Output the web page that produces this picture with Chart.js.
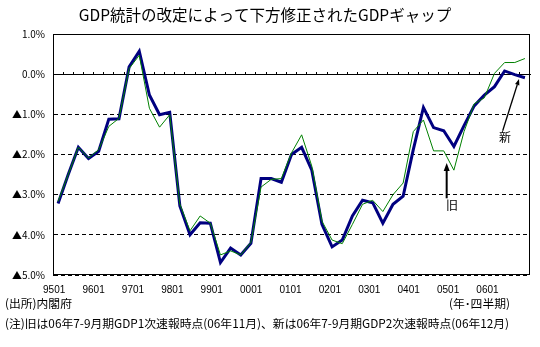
<!DOCTYPE html>
<html><head><meta charset="utf-8">
<script src="https://cdn.jsdelivr.net/npm/chart.js@4.4.1/dist/chart.umd.min.js"></script>
<style>
html,body{margin:0;padding:0;background:#fff;}
#wrap{position:relative;width:540px;height:347px;}
.note{position:absolute;font:11.8px "Noto Sans CJK JP",sans-serif;line-height:14px;color:#000;white-space:nowrap;}
</style></head><body>
<div id="wrap"><canvas id="c" width="540" height="347"></canvas>
<div class="note" style="left:5px;top:296px;">(出所)内閣府</div>
<div class="note" style="right:30px;top:296px;">(年･四半期)</div>
<div class="note" style="left:5px;top:316px;">(注)旧は06年7-9月期GDP1次速報時点(06年11月)、新は06年7-9月期GDP2次速報時点(06年12月)</div>
</div>
<script>
const quarters = ['9501','9502','9503','9504','9601','9602','9603','9604','9701','9702','9703','9704',
  '9801','9802','9803','9804','9901','9902','9903','9904','0001','0002','0003','0004',
  '0101','0102','0103','0104','0201','0202','0203','0204','0301','0302','0303','0304',
  '0401','0402','0403','0404','0501','0502','0503','0504','0601','0602','0603'];
const yearLabels = ['9501','9601','9701','9801','9901','0001','0101','0201','0301','0401','0501','0601'];
const yTickValues = [1,0,-1,-2,-3,-4,-5];
// 新 (GDP 2次速報時点)
const newGap = [-3.22,-2.50,-1.82,-2.10,-1.92,-1.12,-1.11,0.18,0.57,-0.52,-1.01,-0.95,
  -3.28,-4.00,-3.70,-3.71,-4.69,-4.33,-4.50,-4.21,-2.60,-2.60,-2.69,-2.00,
  -1.82,-2.39,-3.74,-4.30,-4.13,-3.53,-3.14,-3.20,-3.71,-3.24,-3.04,-1.88,
  -0.83,-1.33,-1.41,-1.80,-1.28,-0.79,-0.52,-0.31,0.08,-0.01,-0.09];
// 旧 (GDP 1次速報時点)
const oldGap = [-3.17,-2.50,-1.82,-2.09,-1.88,-1.30,-1.10,0.14,0.47,-0.85,-1.32,-1.01,
  -3.24,-3.90,-3.53,-3.71,-4.50,-4.40,-4.50,-4.19,-2.81,-2.62,-2.60,-1.96,
  -1.51,-2.29,-3.66,-4.13,-4.22,-3.74,-3.24,-3.14,-3.42,-3.00,-2.71,-1.43,
  -1.14,-1.91,-1.91,-2.39,-1.43,-0.74,-0.59,0.02,0.29,0.29,0.39];
// annotations in data coordinates (category index, %)
const oldArrow = {from:[38.29,-3.09], to:[38.29,-2.21], text:'旧', textAt:[38.81,-3.27]};
const newArrow = {from:[43.81,-1.41], to:[45.42,-0.12], text:'新', textAt:[44.04,-1.58]};

function fmtY(v){
  if (v > 0) return v.toFixed(1) + '%';
  if (v === 0) return '0.0%';
  return '▲' + (-v).toFixed(1) + '%';
}

function drawArrow(ctx, x1, y1, x2, y2, w, hl, hw){
  const a = Math.atan2(y2 - y1, x2 - x1);
  const bx = x2 - hl * Math.cos(a), by = y2 - hl * Math.sin(a);
  ctx.save();
  ctx.strokeStyle = '#000'; ctx.fillStyle = '#000'; ctx.lineWidth = w;
  ctx.beginPath(); ctx.moveTo(x1, y1); ctx.lineTo(bx, by); ctx.stroke();
  ctx.beginPath();
  ctx.moveTo(x2, y2);
  ctx.lineTo(bx + hw/2 * Math.sin(a), by - hw/2 * Math.cos(a));
  ctx.lineTo(bx - hw/2 * Math.sin(a), by + hw/2 * Math.cos(a));
  ctx.closePath(); ctx.fill();
  ctx.restore();
}

const framePlugin = {
  id: 'frame',
  beforeDatasetsDraw(chart){
    const {ctx, chartArea: a} = chart;
    ctx.save();
    ctx.strokeStyle = '#000'; ctx.lineWidth = 1;
    ctx.strokeRect(Math.round(a.left) + 0.5, Math.round(a.top) + 0.5, Math.round(a.right - a.left) - 1, Math.round(a.bottom - a.top) - 1);
    ctx.restore();
  },
  afterDatasetsDraw(chart){
    const {ctx} = chart;
    const xs = chart.scales.x, ys = chart.scales.y;
    const P = (p) => [xs.getPixelForValue(p[0]), ys.getPixelForValue(p[1])];
    const o1 = P(oldArrow.from), o2 = P(oldArrow.to);
    drawArrow(ctx, o1[0], o1[1], o2[0], o2[1], 2, 8, 6);
    const n1 = P(newArrow.from), n2 = P(newArrow.to);
    drawArrow(ctx, n1[0], n1[1], n2[0], n2[1], 1.3, 6, 4.5);
    ctx.save();
    ctx.fillStyle = '#000';
    ctx.font = '12px "Noto Sans CJK JP", sans-serif';
    ctx.textAlign = 'center'; ctx.textBaseline = 'middle';
    const ot = P(oldArrow.textAt), nt = P(newArrow.textAt);
    ctx.fillText(oldArrow.text, ot[0], ot[1]);
    ctx.fillText(newArrow.text, nt[0], nt[1]);
    ctx.restore();
  }
};

new Chart(document.getElementById('c'), {
  type: 'line',
  data: {
    labels: quarters,
    datasets: [
      {label:'新', data:newGap, xAxisID:'x', yAxisID:'y', borderColor:'#000080', borderWidth:3, pointRadius:0, tension:0, fill:false, order:2},
      {label:'旧', data:oldGap, xAxisID:'x', yAxisID:'y', borderColor:'#008000', borderWidth:1, pointRadius:0, tension:0, fill:false, order:1}
    ]
  },
  options: {
    responsive:false, devicePixelRatio:1, animation:false,
    layout:{padding:{left:0,right:10,top:0,bottom:0}},
    plugins:{
      legend:{display:false}, tooltip:{enabled:false},
      title:{display:true, text:'GDP統計の改定によって下方修正されたGDPギャップ', color:'#000',
        font:{family:'"Noto Sans CJK JP", sans-serif', size:15.5, weight:'normal'}, padding:{top:6,bottom:9.4}}
    },
    scales:{
      y:{type:'linear', position:'left', min:-5, max:1,
        afterBuildTicks:(s)=>{ s.ticks = yTickValues.map(v=>({value:v})); },
        afterFit:(s)=>{ s.width = 53; },
        ticks:{padding:8, color:'#000', font:{family:'"Noto Sans CJK JP", sans-serif', size:10}, callback:(v)=>fmtY(v)},
        grid:{color:'#000', lineWidth:1, drawTicks:false},
        border:{display:true, color:'#000', width:1, dash:[4,3]}
      },
      x:{type:'category', axis:'x', labels:quarters, offset:true, position:{y:0},
        ticks:{display:false},
        grid:{offset:true, drawOnChartArea:false, drawTicks:true, tickLength:-3, color:'#000', lineWidth:1},
        border:{display:true, color:'#000', width:1}
      },
      xLabels:{type:'linear', axis:'x', position:'bottom', min:-0.03, max:12.08,
        afterBuildTicks:(s)=>{ s.ticks = yearLabels.map((_,i)=>({value:i})); },
        afterFit:(s)=>{ s.height = 72; },
        ticks:{autoSkip:false, maxRotation:0, padding:9, color:'#000', font:{family:'"Liberation Sans", sans-serif', size:10}, callback:(v)=>yearLabels[v]},
        grid:{display:false, drawTicks:false},
        border:{display:false}
      }
    }
  },
  plugins:[framePlugin]
});
</script>
</body></html>
